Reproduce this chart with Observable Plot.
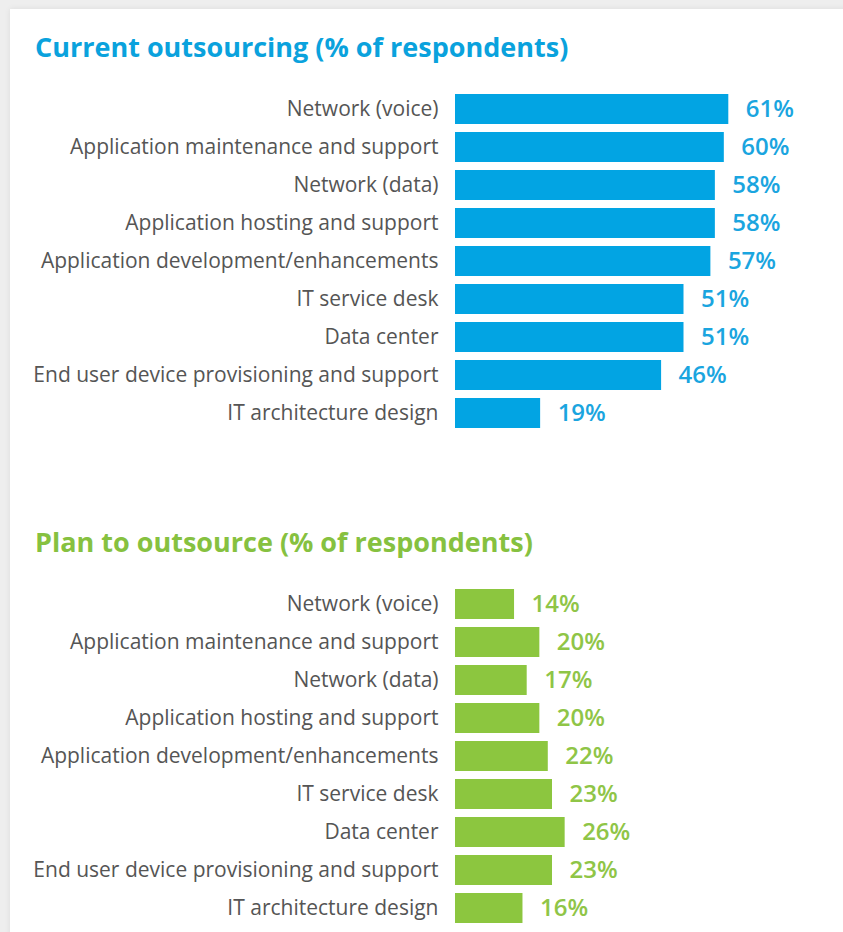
<!DOCTYPE html>
<html>
<head>
<meta charset="utf-8">
<script src="https://cdn.jsdelivr.net/npm/d3@7"></script>
<script src="https://cdn.jsdelivr.net/npm/@observablehq/plot@0.6"></script>
<style>
  html, body { margin: 0; padding: 0; background: #eeeeee; width: 843px; height: 932px; overflow: hidden; }
  #panel { position: absolute; left: 10px; top: 9px; width: 840px; height: 930px; background: #fff; box-shadow: 0 0 6px rgba(0,0,0,0.08); }
  .title { position: absolute; left: 35px; font-family: "Open Sans", sans-serif; font-weight: 700; font-size: 27px; margin: 0; line-height: 1; letter-spacing: 0px; }
  .chart { position: absolute; left: 0; }
</style>
</head>
<body>
<div id="panel"></div>
<div class="title" id="t1" style="top:33px;color:#0aa2dd;">Current outsourcing (% of respondents)</div>
<div class="chart" id="c1" style="top:80px;"></div>
<div class="title" id="t2" style="top:528px;color:#86c140;">Plan to outsource (% of respondents)</div>
<div class="chart" id="c2" style="top:575px;"></div>
<script>
const categories = [
  "Network (voice)",
  "Application maintenance and support",
  "Network (data)",
  "Application hosting and support",
  "Application development/enhancements",
  "IT service desk",
  "Data center",
  "End user device provisioning and support",
  "IT architecture design"
];
const currentValues = [61, 60, 58, 58, 57, 51, 51, 46, 19];
const planValues = [14, 20, 17, 20, 22, 23, 26, 23, 16];

function makeChart(values, barColor, textColor, xMax, height, marginTop, marginBottom) {
  const data = categories.map((c, i) => ({category: c, value: values[i]}));
  return Plot.plot({
    width: 843,
    height: height,
    marginLeft: 455,
    marginRight: 0,
    marginTop: marginTop,
    marginBottom: marginBottom,
    style: {fontFamily: "'Open Sans', sans-serif", background: "transparent", overflow: "visible"},
    x: {domain: [0, xMax], axis: null},
    y: {domain: categories, paddingInner: 0.22, paddingOuter: 0.11, label: null},
    marks: [
      Plot.axisY({tickSize: 0, tickPadding: 17, fontSize: 21, color: "#555", label: null}),
      Plot.barX(data, {x: "value", y: "category", fill: barColor}),
      Plot.text(data, {x: "value", y: "category", text: d => d.value + "%", textAnchor: "start", dx: 17, fill: textColor, fontSize: 24, fontWeight: 600})
    ]
  });
}

document.getElementById("c1").appendChild(makeChart(currentValues, "#02a4e3", "#1aa5df", 86.6, 360, 7, 5));
document.getElementById("c2").appendChild(makeChart(planValues, "#8cc63f", "#8fc547", 92, 357, 8, 3));
</script>
</body>
</html>
